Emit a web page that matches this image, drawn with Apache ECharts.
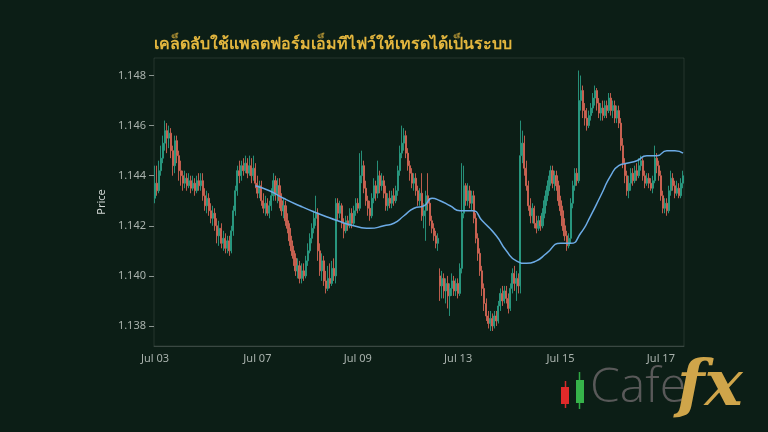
<!DOCTYPE html>
<html><head><meta charset="utf-8">
<script src="https://cdn.jsdelivr.net/npm/echarts@6/dist/echarts.min.js"></script>
<style>html,body{margin:0;padding:0;background:#0c1e16;}#c{width:768px;height:432px;}</style>
</head><body><div id="c"></div>
<script>
// [open, close, low, high]
const candles = [
[1.1431,1.1437,1.1429,1.1444],[1.1437,1.1434,1.1432,1.1444],[1.1434,1.1442,1.1433,1.1446],[1.1442,1.1447,1.1440,1.1452],
[1.1447,1.1453,1.1445,1.1456],[1.1453,1.1458,1.1450,1.1462],[1.1458,1.1455,1.1449,1.1461],[1.1455,1.1457,1.1451,1.1460],
[1.1457,1.1450,1.1447,1.1459],[1.1450,1.1444,1.1440,1.1452],[1.1444,1.1454,1.1441,1.1456],[1.1454,1.1448,1.1445,1.1456],
[1.1448,1.1442,1.1438,1.1450],[1.1442,1.1440,1.1436,1.1446],[1.1440,1.1437,1.1434,1.1442],[1.1437,1.1439,1.1435,1.1442],
[1.1439,1.1436,1.1434,1.1441],[1.1436,1.1438,1.1435,1.1441],[1.1438,1.1435,1.1433,1.1440],[1.1435,1.1437,1.1434,1.1440],
[1.1437,1.1434,1.1432,1.1439],[1.1434,1.1438,1.1433,1.1440],[1.1438,1.1436,1.1434,1.1441],[1.1436,1.1438,1.1434,1.1441],
[1.1438,1.1432,1.1430,1.1441],[1.1432,1.1428,1.1426,1.1435],[1.1428,1.1431,1.1425,1.1434],[1.1431,1.1426,1.1424,1.1433],
[1.1426,1.1423,1.1421,1.1429],[1.1423,1.1425,1.1420,1.1428],[1.1425,1.1420,1.1418,1.1427],[1.1420,1.1416,1.1413,1.1423],
[1.1416,1.1419,1.1412,1.1422],[1.1419,1.1413,1.1411,1.1421],[1.1413,1.1415,1.1410,1.1418],[1.1415,1.1411,1.1409,1.1417],
[1.1411,1.1414,1.1409,1.1416],[1.1414,1.1410,1.1408,1.1416],[1.1410,1.1418,1.1409,1.1420],[1.1418,1.1426,1.1416,1.1428],
[1.1426,1.1434,1.1424,1.1436],[1.1434,1.1442,1.1432,1.1444],[1.1442,1.1440,1.1437,1.1446],[1.1440,1.1444,1.1438,1.1446],
[1.1444,1.1442,1.1440,1.1447],[1.1442,1.1445,1.1441,1.1448],[1.1445,1.1441,1.1439,1.1447],[1.1441,1.1444,1.1440,1.1448],
[1.1444,1.1440,1.1437,1.1447],[1.1440,1.1443,1.1438,1.1448],[1.1443,1.1437,1.1435,1.1445],[1.1437,1.1433,1.1431,1.1440],
[1.1433,1.1436,1.1431,1.1438],[1.1436,1.1430,1.1428,1.1438],[1.1430,1.1427,1.1425,1.1433],[1.1427,1.1429,1.1424,1.1432],
[1.1429,1.1425,1.1424,1.1431],[1.1425,1.1428,1.1423,1.1430],[1.1428,1.1432,1.1426,1.1435],[1.1432,1.1438,1.1430,1.1441],
[1.1438,1.1433,1.1430,1.1440],[1.1433,1.1436,1.1429,1.1439],[1.1436,1.1430,1.1427,1.1439],[1.1430,1.1426,1.1424,1.1433],
[1.1426,1.1428,1.1423,1.1431],[1.1428,1.1422,1.1420,1.1430],[1.1422,1.1419,1.1417,1.1425],[1.1419,1.1414,1.1412,1.1421],
[1.1414,1.1410,1.1408,1.1416],[1.1410,1.1407,1.1404,1.1412],[1.1407,1.1402,1.1400,1.1409],[1.1402,1.1404,1.1399,1.1407],
[1.1404,1.1399,1.1397,1.1406],[1.1399,1.1402,1.1397,1.1405],[1.1402,1.1400,1.1398,1.1405],[1.1400,1.1406,1.1399,1.1408],
[1.1406,1.1410,1.1404,1.1413],[1.1410,1.1415,1.1409,1.1417],[1.1415,1.1419,1.1413,1.1421],[1.1419,1.1423,1.1417,1.1426],
[1.1423,1.1425,1.1420,1.1432],[1.1425,1.1410,1.1406,1.1427],[1.1410,1.1402,1.1400,1.1413],[1.1402,1.1406,1.1398,1.1409],
[1.1406,1.1398,1.1396,1.1408],[1.1398,1.1395,1.1393,1.1402],[1.1395,1.1399,1.1394,1.1404],[1.1399,1.1397,1.1395,1.1405],
[1.1397,1.1403,1.1396,1.1406],[1.1403,1.1400,1.1398,1.1407],[1.1400,1.1429,1.1397,1.1431],[1.1429,1.1425,1.1422,1.1431],
[1.1425,1.1428,1.1423,1.1430],[1.1428,1.1421,1.1419,1.1429],[1.1421,1.1418,1.1415,1.1423],[1.1418,1.1422,1.1417,1.1424],
[1.1422,1.1420,1.1418,1.1424],[1.1420,1.1425,1.1419,1.1427],[1.1425,1.1421,1.1419,1.1427],[1.1421,1.1426,1.1420,1.1428],
[1.1426,1.1429,1.1424,1.1431],[1.1429,1.1427,1.1425,1.1431],[1.1427,1.1440,1.1426,1.1449],[1.1440,1.1444,1.1437,1.1450],
[1.1444,1.1435,1.1433,1.1446],[1.1435,1.1430,1.1428,1.1438],[1.1430,1.1427,1.1424,1.1432],[1.1427,1.1424,1.1422,1.1430],
[1.1424,1.1431,1.1423,1.1433],[1.1431,1.1436,1.1429,1.1439],[1.1436,1.1433,1.1430,1.1438],[1.1433,1.1440,1.1431,1.1446],
[1.1440,1.1436,1.1433,1.1442],[1.1436,1.1438,1.1434,1.1441],[1.1438,1.1433,1.1431,1.1440],[1.1433,1.1428,1.1426,1.1436],
[1.1428,1.1431,1.1426,1.1433],[1.1431,1.1429,1.1427,1.1434],[1.1429,1.1432,1.1427,1.1434],[1.1432,1.1430,1.1428,1.1435],
[1.1430,1.1434,1.1429,1.1436],[1.1434,1.1442,1.1432,1.1444],[1.1442,1.1449,1.1440,1.1452],[1.1449,1.1453,1.1447,1.1460],
[1.1453,1.1456,1.1450,1.1459],[1.1456,1.1449,1.1447,1.1458],[1.1449,1.1444,1.1442,1.1451],[1.1444,1.1441,1.1438,1.1446],
[1.1441,1.1437,1.1435,1.1443],[1.1437,1.1439,1.1434,1.1441],[1.1439,1.1434,1.1432,1.1441],[1.1434,1.1430,1.1428,1.1436],
[1.1430,1.1433,1.1428,1.1435],[1.1433,1.1424,1.1422,1.1441],[1.1424,1.1426,1.1419,1.1429],[1.1426,1.1432,1.1414,1.1434],
[1.1432,1.1429,1.1426,1.1441],[1.1429,1.1422,1.1420,1.1431],[1.1422,1.1419,1.1417,1.1424],[1.1419,1.1416,1.1414,1.1421],
[1.1416,1.1413,1.1411,1.1418],[1.1413,1.1415,1.1410,1.1417],[1.1400,1.1396,1.1390,1.1403],[1.1396,1.1399,1.1391,1.1402],
[1.1399,1.1394,1.1391,1.1401],[1.1394,1.1397,1.1389,1.1399],[1.1397,1.1392,1.1387,1.1400],[1.1392,1.1395,1.1384,1.1397],
[1.1395,1.1398,1.1392,1.1401],[1.1398,1.1394,1.1392,1.1400],[1.1394,1.1397,1.1392,1.1399],[1.1397,1.1393,1.1391,1.1399],
[1.1393,1.1403,1.1392,1.1405],[1.1403,1.1425,1.1401,1.1445],[1.1425,1.1436,1.1423,1.1444],[1.1436,1.1430,1.1428,1.1437],
[1.1430,1.1434,1.1428,1.1437],[1.1434,1.1429,1.1427,1.1436],[1.1429,1.1432,1.1426,1.1434],[1.1432,1.1423,1.1421,1.1434],
[1.1423,1.1415,1.1413,1.1425],[1.1415,1.1409,1.1406,1.1417],[1.1409,1.1402,1.1400,1.1411],[1.1402,1.1395,1.1392,1.1404],
[1.1395,1.1389,1.1386,1.1397],[1.1389,1.1384,1.1382,1.1391],[1.1384,1.1381,1.1379,1.1386],[1.1381,1.1383,1.1378,1.1386],
[1.1383,1.1380,1.1378,1.1385],[1.1380,1.1384,1.1379,1.1386],[1.1384,1.1382,1.1380,1.1386],[1.1382,1.1388,1.1381,1.1390],
[1.1388,1.1393,1.1386,1.1395],[1.1393,1.1390,1.1388,1.1396],[1.1390,1.1394,1.1389,1.1396],[1.1394,1.1391,1.1389,1.1396],
[1.1391,1.1387,1.1385,1.1393],[1.1387,1.1395,1.1386,1.1397],[1.1395,1.1401,1.1393,1.1403],[1.1401,1.1397,1.1394,1.1404],
[1.1397,1.1399,1.1390,1.1402],[1.1399,1.1396,1.1393,1.1401],[1.1396,1.1448,1.1393,1.1462],[1.1448,1.1453,1.1445,1.1458],
[1.1453,1.1443,1.1440,1.1456],[1.1443,1.1436,1.1434,1.1446],[1.1436,1.1428,1.1426,1.1438],[1.1428,1.1424,1.1421,1.1431],
[1.1424,1.1427,1.1421,1.1429],[1.1427,1.1421,1.1419,1.1428],[1.1421,1.1419,1.1417,1.1424],[1.1419,1.1422,1.1418,1.1424],
[1.1422,1.1420,1.1418,1.1424],[1.1420,1.1425,1.1419,1.1427],[1.1425,1.1430,1.1423,1.1432],[1.1430,1.1434,1.1428,1.1436],
[1.1434,1.1438,1.1432,1.1440],[1.1438,1.1442,1.1436,1.1444],[1.1442,1.1437,1.1435,1.1444],[1.1437,1.1440,1.1434,1.1442],
[1.1440,1.1436,1.1434,1.1442],[1.1436,1.1430,1.1428,1.1438],[1.1430,1.1426,1.1424,1.1432],[1.1426,1.1420,1.1418,1.1428],
[1.1420,1.1416,1.1414,1.1423],[1.1416,1.1412,1.1410,1.1418],[1.1412,1.1415,1.1411,1.1417],[1.1415,1.1429,1.1413,1.1431],
[1.1429,1.1436,1.1427,1.1438],[1.1436,1.1441,1.1434,1.1443],[1.1441,1.1438,1.1436,1.1443],[1.1438,1.1470,1.1437,1.1482],
[1.1470,1.1474,1.1466,1.1480],[1.1474,1.1466,1.1463,1.1476],[1.1466,1.1463,1.1460,1.1469],[1.1463,1.1460,1.1458,1.1467],
[1.1460,1.1464,1.1459,1.1466],[1.1464,1.1467,1.1462,1.1469],[1.1467,1.1471,1.1465,1.1473],[1.1471,1.1474,1.1468,1.1476],
[1.1474,1.1469,1.1466,1.1475],[1.1469,1.1465,1.1463,1.1471],[1.1465,1.1467,1.1462,1.1469],[1.1467,1.1464,1.1462,1.1470],
[1.1464,1.1468,1.1463,1.1470],[1.1468,1.1466,1.1463,1.1470],[1.1466,1.1471,1.1465,1.1473],[1.1471,1.1466,1.1464,1.1473],
[1.1466,1.1468,1.1463,1.1470],[1.1468,1.1463,1.1461,1.1470],[1.1463,1.1466,1.1461,1.1468],[1.1466,1.1461,1.1459,1.1468],
[1.1461,1.1452,1.1450,1.1463],[1.1452,1.1445,1.1443,1.1455],[1.1445,1.1440,1.1437,1.1447],[1.1440,1.1434,1.1432,1.1442],
[1.1434,1.1437,1.1431,1.1440],[1.1437,1.1441,1.1434,1.1443],[1.1441,1.1438,1.1436,1.1443],[1.1438,1.1442,1.1437,1.1444],
[1.1442,1.1440,1.1438,1.1445],[1.1440,1.1444,1.1439,1.1447],[1.1444,1.1446,1.1442,1.1448],[1.1446,1.1440,1.1438,1.1447],
[1.1440,1.1437,1.1435,1.1442],[1.1437,1.1439,1.1436,1.1441],[1.1439,1.1437,1.1435,1.1441],[1.1437,1.1435,1.1434,1.1439],
[1.1435,1.1438,1.1433,1.1440],[1.1438,1.1447,1.1437,1.1452],[1.1447,1.1444,1.1441,1.1449],[1.1444,1.1440,1.1438,1.1446],
[1.1440,1.1432,1.1430,1.1442],[1.1432,1.1427,1.1425,1.1434],[1.1427,1.1429,1.1425,1.1431],[1.1429,1.1426,1.1424,1.1431],
[1.1426,1.1434,1.1425,1.1436],[1.1434,1.1439,1.1432,1.1442],[1.1439,1.1436,1.1434,1.1441],[1.1436,1.1433,1.1431,1.1438],
[1.1433,1.1435,1.1432,1.1438],[1.1435,1.1432,1.1431,1.1437],[1.1432,1.1437,1.1431,1.1439],[1.1437,1.1440,1.1435,1.1442]
];
// moving average: [candle index, value]
const maPoints = [
[50,1.1436],[57,1.1434],[64,1.1431],[72,1.1428],[81,1.1425],[91,1.1422],[99,1.1420],[107,1.1419],[114,1.1420],
[119,1.1421],[124,1.1424],[129,1.1427],[134,1.1428],[138,1.1431],[142,1.1430],[147,1.1428],[152,1.1426],[158,1.1426],
[163,1.1422],[170,1.1416],[175,1.1410],[180,1.1406],[185,1.1405],[190,1.1406],[195,1.1409],[202,1.1413],[207,1.1413],
[212,1.1417],[217,1.1424],[222,1.1432],[227,1.1440],[231,1.1444],[235,1.1445],[240,1.1446],[245,1.1448],[250,1.1448],
[255,1.1450],[259,1.1450],[263,1.1449]
];
const tickIndex = [0, 51, 101, 151, 202, 252];
const tickLabels = ['Jul 03', 'Jul 07', 'Jul 09', 'Jul 13', 'Jul 15', 'Jul 17'];
const yTicks = [1.138, 1.140, 1.142, 1.144, 1.146, 1.148];
const categories = candles.map((_, i) => String(i));

const UP = '#2a9f86', DOWN = '#d66655';
const chart = echarts.init(document.getElementById('c'), null, {renderer: 'canvas'});
chart.setOption({
  backgroundColor: '#0c1e16',
  animation: false,
  title: {
    text: 'เคล็ดลับใช้แพลตฟอร์มเอ็มทีไฟว์ให้เทรดได้เป็นระบบ',
    left: 149, top: 31,
    textStyle: {color: '#e3b63e', fontSize: 16, fontWeight: 'bold', fontFamily: 'Noto Sans, sans-serif'}
  },
  grid: {left: 154, right: 84, top: 58, bottom: 86, show: true, borderColor: 'rgba(255,255,255,0.10)', borderWidth: 1},
  xAxis: {
    type: 'category', data: categories, boundaryGap: true,
    axisLine: {lineStyle: {color: 'rgba(255,255,255,0.15)'}},
    axisTick: {alignWithLabel: true, interval: (i) => tickIndex.includes(i), length: 4, lineStyle: {color: '#8a948f'}},
    axisLabel: {interval: (i) => tickIndex.includes(i), formatter: (v) => tickLabels[tickIndex.indexOf(Number(v))] || '', color: '#a9b2ad', fontSize: 11, margin: 7, fontFamily: 'Noto Sans, sans-serif'},
    splitLine: {show: false}
  },
  yAxis: {
    type: 'value', min: 1.1372, max: 1.1487, scale: true,
    name: 'Price', nameLocation: 'middle', nameGap: 42,
    nameTextStyle: {color: '#d0d6d3', fontSize: 11, fontFamily: 'Noto Sans, sans-serif'},
    axisLine: {show: false},
    axisTick: {show: true, customValues: yTicks, length: 5, lineStyle: {color: '#8a948f'}},
    axisLabel: {customValues: yTicks, formatter: (v) => v.toFixed(3), color: '#a9b2ad', fontSize: 11, margin: 8, fontFamily: 'Noto Sans, sans-serif'},
    splitLine: {show: false}
  },
  series: [
    {
      type: 'candlestick', data: candles, barWidth: '80%',
      itemStyle: {color: UP, color0: DOWN, borderColor: UP, borderColor0: DOWN, borderWidth: 1, opacity: 0.88}
    },
    {
      type: 'line', data: maPoints, smooth: 0.6, symbol: 'none',
      lineStyle: {color: '#6cabe6', width: 1.5}
    }
  ],
  graphic: [
    {type: 'line', shape: {x1: 565.5, y1: 381, x2: 565.5, y2: 408}, style: {stroke: '#d62a2a', lineWidth: 1.5}},
    {type: 'rect', shape: {x: 561, y: 387, width: 8, height: 17}, style: {fill: '#e02a2a'}},
    {type: 'line', shape: {x1: 579.5, y1: 372, x2: 579.5, y2: 409}, style: {stroke: '#2fa844', lineWidth: 1.5}},
    {type: 'rect', shape: {x: 576, y: 380, width: 8, height: 23}, style: {fill: '#36b34a'}},
    {type: 'text', left: 590, top: 364, style: {text: 'Cafe', fill: '#595959', font: '300 48px "Open Sans", sans-serif'}},
    {type: 'text', left: 677, top: 356, style: {text: 'fx', fill: '#cfa54a', font: 'italic bold 64px "DejaVu Serif", serif'}}
  ]
});
</script></body></html>
